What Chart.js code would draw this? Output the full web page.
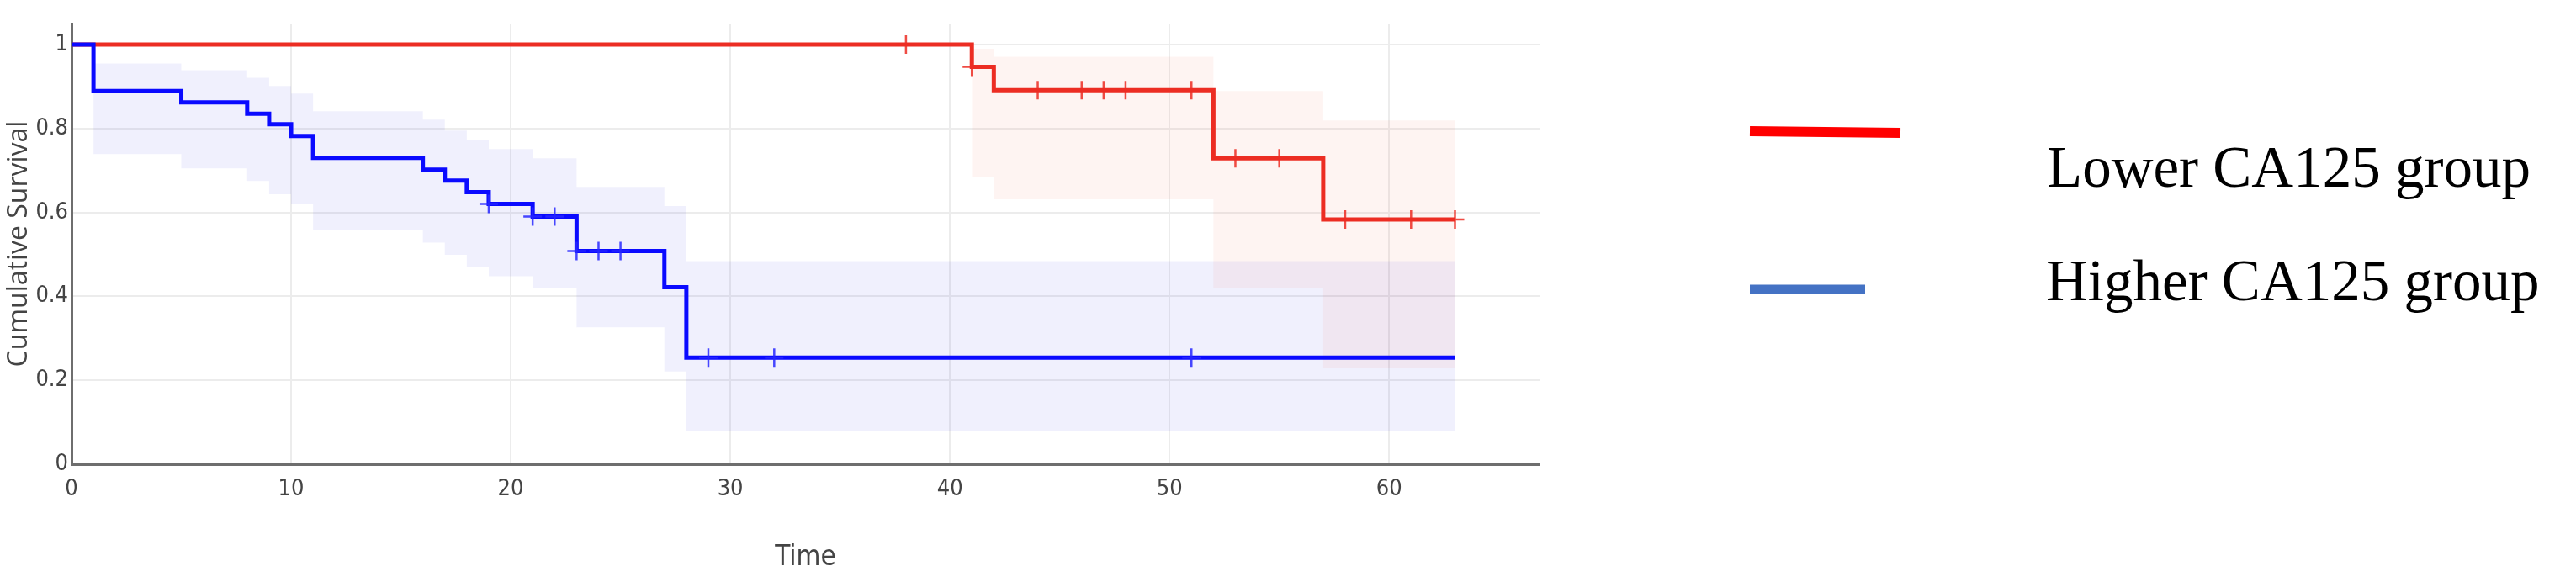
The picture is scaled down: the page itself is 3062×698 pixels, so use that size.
<!DOCTYPE html>
<html>
<head>
<meta charset="utf-8">
<script src="https://cdn.jsdelivr.net/npm/chart.js@4.4.1/dist/chart.umd.min.js"></script>
<style>
  html, body { margin: 0; padding: 0; background: #fff; }
  #km { display: block; }
</style>
</head>
<body>
<canvas id="km" width="3062" height="698"></canvas>
<script>
// Lower CA125 group (red) - KM steps
let lowTimes = [0, 41, 42, 52, 57, 63]
let lowSurv = [1, 0.947, 0.891, 0.729, 0.583, 0.583]
let lowCensored = [38, 41, 44, 46, 47, 48, 51, 53, 55, 58, 61, 63]
let lowBandTimes = [41, 42, 52, 57, 63]
let lowBandUpper = [0.99, 0.971, 0.889, 0.819, 0.819]
let lowBandLower = [0.685, 0.631, 0.42, 0.23, 0.23]

// Higher CA125 group (blue)
let highTimes = [0, 1, 5, 8, 9, 10, 11, 16, 17, 18, 19, 21, 23, 27, 28, 63]
let highSurv = [1, 0.889, 0.862, 0.835, 0.81, 0.782, 0.73, 0.702, 0.676, 0.648, 0.62, 0.59, 0.508, 0.422, 0.254, 0.254]
let highCensored = [19, 21, 22, 23, 24, 25, 29, 32, 51]
let highBandTimes = [1, 5, 8, 9, 10, 11, 16, 17, 18, 19, 21, 23, 27, 28, 63]
let highBandUpper = [0.955, 0.939, 0.921, 0.901, 0.883, 0.841, 0.821, 0.795, 0.773, 0.751, 0.729, 0.661, 0.615, 0.484, 0.484]
let highBandLower = [0.739, 0.705, 0.675, 0.643, 0.619, 0.558, 0.528, 0.499, 0.471, 0.448, 0.419, 0.326, 0.221, 0.078, 0.078]

let groupNames = ['Lower CA125 group', 'Higher CA125 group']
let xTicks = [0, 10, 20, 30, 40, 50, 60]
let yTicks = [0, 0.2, 0.4, 0.6, 0.8, 1]

const narrow = '"Liberation Sans Narrow", "DejaVu Sans Condensed", "Open Sans", sans-serif'

function pts(xs, ys) {
  return xs.map((x, i) => ({x: x, y: ys[i]}))
}

// value of a step curve at time t (for placing the censor crosses)
function survAt(xs, ys, t) {
  let s = ys[0]
  xs.forEach((x, i) => { if (x <= t) s = ys[i] })
  return s
}

function band(times, vals, fill, color) {
  return {
    data: pts(times, vals), stepped: 'before', borderWidth: 0, pointRadius: 0,
    fill: fill, backgroundColor: color, order: 3
  }
}

const sideLegend = {
  id: 'sideLegend',
  afterDraw(chart) {
    const ctx = chart.ctx
    ctx.save()
    ctx.lineCap = 'butt'
    ctx.strokeStyle = '#ff0000'
    ctx.lineWidth = 12
    ctx.beginPath(); ctx.moveTo(2080, 156); ctx.lineTo(2259, 158); ctx.stroke()
    ctx.strokeStyle = '#4472c4'
    ctx.lineWidth = 11
    ctx.beginPath(); ctx.moveTo(2080, 344); ctx.lineTo(2217, 344); ctx.stroke()
    ctx.fillStyle = '#000'
    ctx.font = '69px "Liberation Serif", "Times New Roman", serif'
    ctx.textBaseline = 'alphabetic'
    ctx.fillText(groupNames[0], 2433, 222)
    ctx.fillText(groupNames[1], 2432, 357)
    ctx.restore()
  }
}

new Chart(document.getElementById('km'), {
  type: 'line',
  data: {
    datasets: [
      band(lowBandTimes, lowBandUpper, '+1', 'rgba(240,60,40,0.06)'),
      band(lowBandTimes, lowBandLower, false, 'transparent'),
      band(highBandTimes, highBandUpper, '+1', 'rgba(60,60,230,0.075)'),
      band(highBandTimes, highBandLower, false, 'transparent'),
      {
        label: groupNames[1], data: pts(highTimes, highSurv), stepped: 'before',
        borderColor: '#0a0aff', borderWidth: 5, pointRadius: 0, fill: false, order: 1
      },
      {
        label: groupNames[0], data: pts(lowTimes, lowSurv), stepped: 'before',
        borderColor: 'rgb(236,45,35)', borderWidth: 5, pointRadius: 0, fill: false, order: 1
      },
      {
        data: highCensored.map(t => ({x: t, y: survAt(highTimes, highSurv, t)})),
        showLine: false, pointStyle: 'cross', pointRadius: 11, borderWidth: 2.5,
        borderColor: 'rgba(40,40,255,0.85)', order: 0
      },
      {
        data: lowCensored.map(t => ({x: t, y: survAt(lowTimes, lowSurv, t)})),
        showLine: false, pointStyle: 'cross', pointRadius: 11, borderWidth: 2.5,
        borderColor: 'rgba(236,45,35,0.85)', order: 0
      }
    ]
  },
  options: {
    responsive: false,
    animation: false,
    devicePixelRatio: 1,
    layout: { padding: { left: 0, top: 28, right: 1232, bottom: 0 } },
    plugins: { legend: { display: false }, tooltip: { enabled: false } },
    scales: {
      x: {
        type: 'linear', min: 0, max: 66.85,
        afterBuildTicks: s => { s.ticks = xTicks.map(v => ({value: v})) },
        afterFit: s => { s.height = 146 },
        grid: { color: '#ececec', lineWidth: 2, drawTicks: false },
        border: { color: '#6e6e6e', width: 3 },
        ticks: { padding: 14, maxRotation: 0, color: '#444', font: { family: narrow, size: 27 } },
        title: { display: true, text: 'Time', color: '#444', font: { family: narrow, size: 33 }, padding: { top: 0, bottom: 15 } }
      },
      y: {
        type: 'linear', min: 0, max: 1.05,
        afterBuildTicks: s => { s.ticks = yTicks.map(v => ({value: v})) },
        afterFit: s => { s.width = 85 },
        grid: { color: '#ececec', lineWidth: 2, drawTicks: false },
        border: { color: '#6e6e6e', width: 3 },
        ticks: { padding: 4, color: '#444', font: { family: narrow, size: 27 }, callback: v => String(Number(v)) },
        title: { display: true, text: 'Cumulative Survival', color: '#444', font: { family: '"Open Sans", sans-serif', size: 32 }, padding: { top: 4, bottom: 0 } }
      }
    }
  },
  plugins: [sideLegend]
})
</script>
</body>
</html>
